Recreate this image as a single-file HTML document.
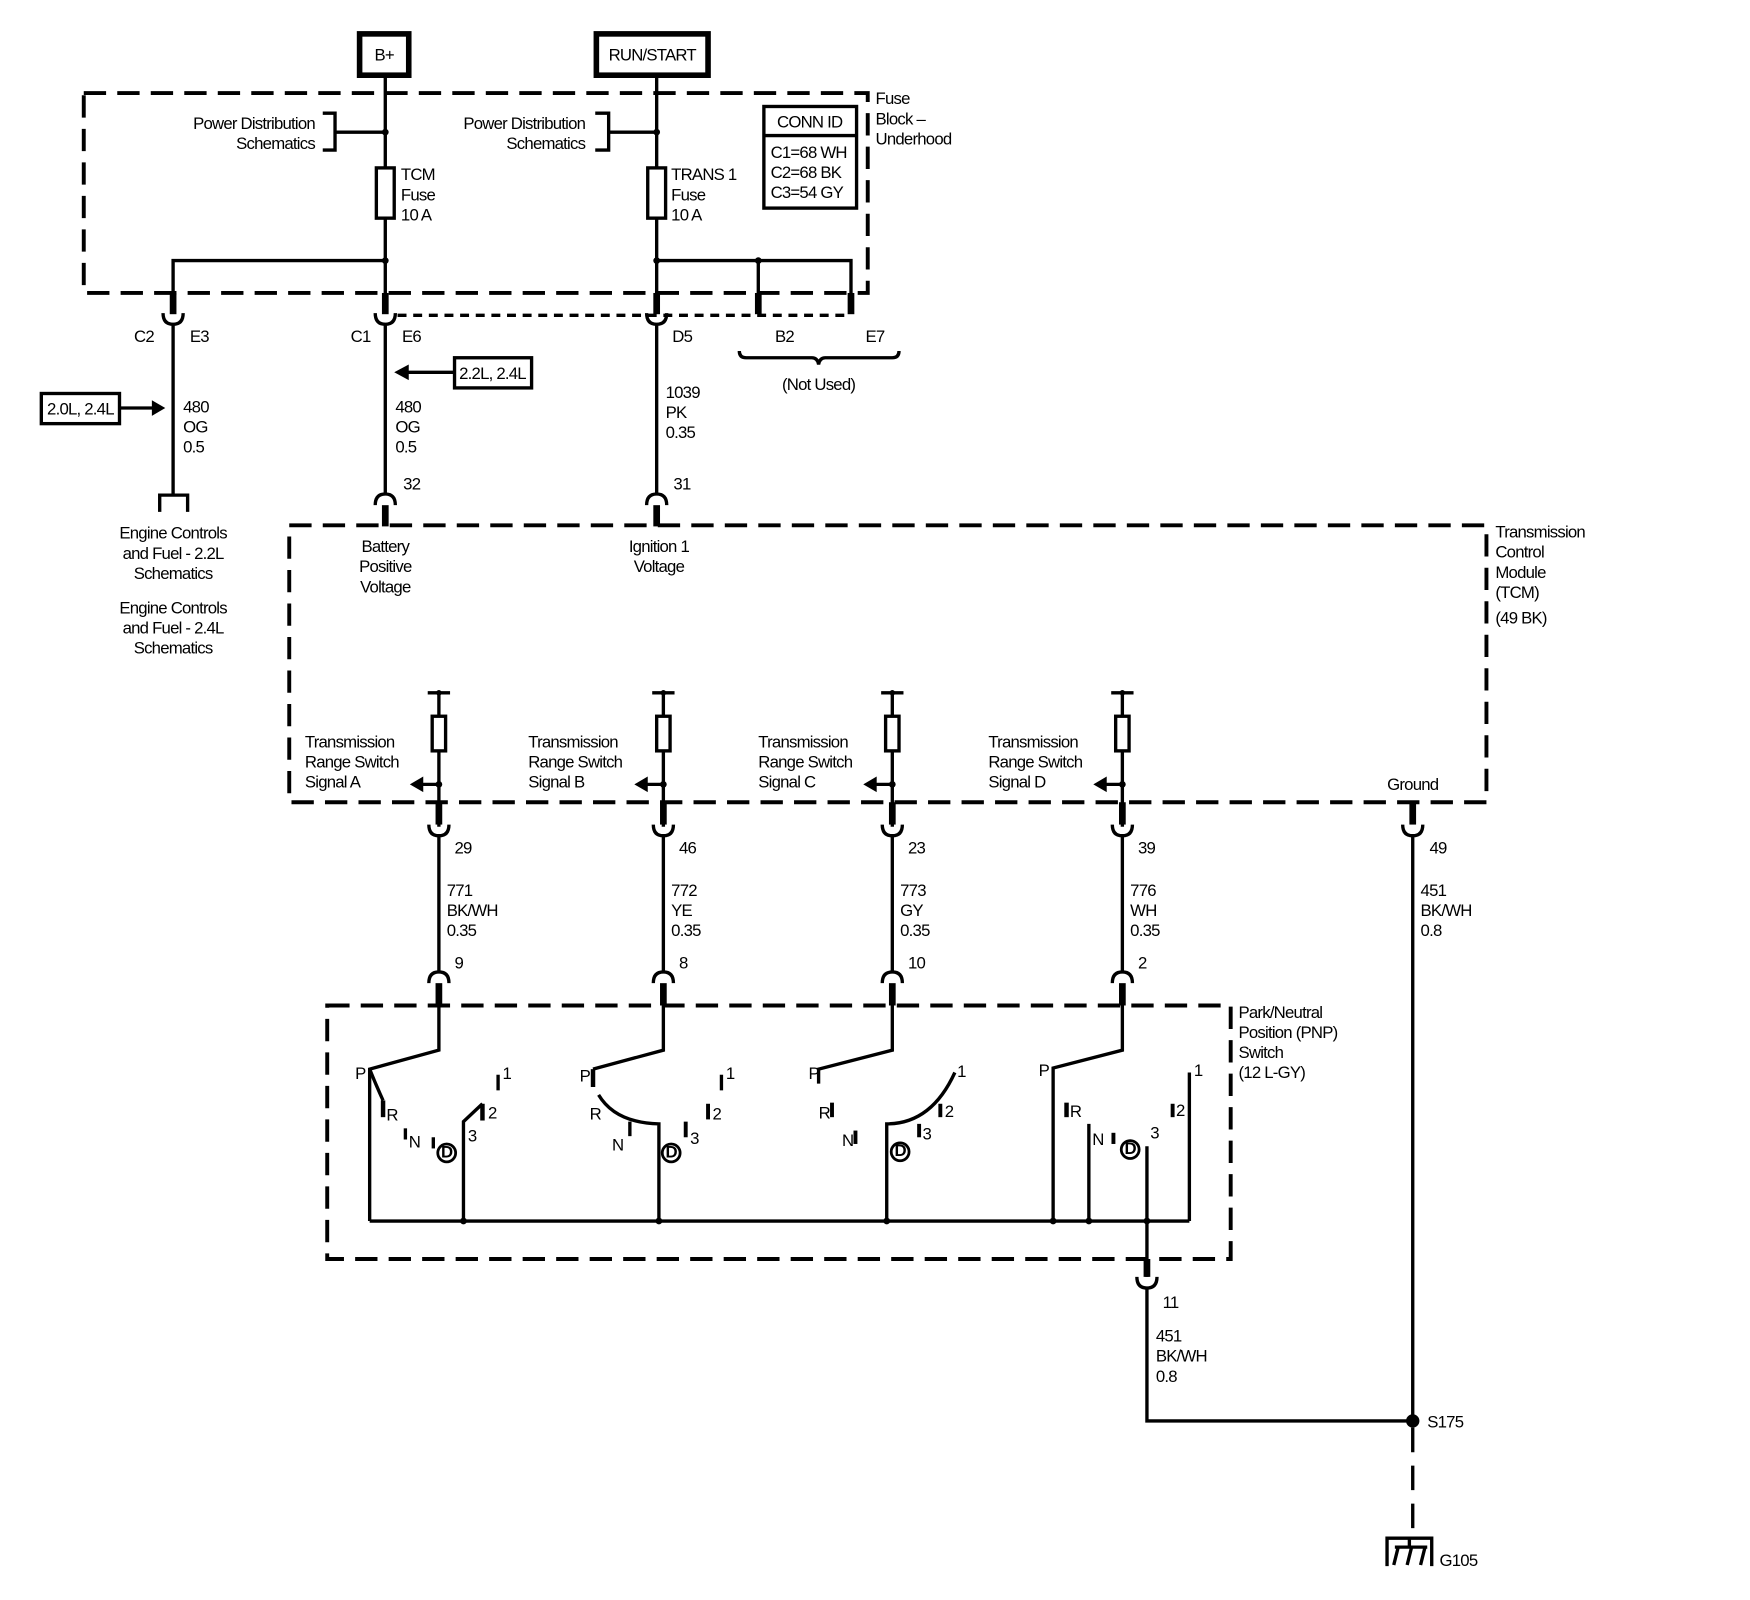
<!DOCTYPE html>
<html><head><meta charset="utf-8"><style>
html,body{margin:0;padding:0;background:#fff;}
svg{display:block;}
text{font-family:"Liberation Sans",sans-serif;font-size:15px;fill:#000;letter-spacing:-0.7px;}
</style></head><body>
<svg width="1750" height="1600" viewBox="0 0 1567 1432" xmlns="http://www.w3.org/2000/svg">
<g fill="none" stroke="#000" stroke-width="3">
<!-- power boxes -->
<rect x="322" y="30" width="44" height="37" stroke-width="5"/>
<rect x="534" y="30" width="100" height="37" stroke-width="5"/>
<!-- fuse block dashed -->
<rect x="75" y="83" width="702" height="179" stroke-dasharray="20 10" stroke-width="3.5"/>
<!-- B+ line -->
<line x1="345" y1="67" x2="345" y2="280"/>
<polyline points="289,101 300,101 300,134 289,134"/>
<line x1="300" y1="118" x2="345" y2="118"/>
<rect x="337" y="150" width="16" height="45" fill="#fff"/>
<polyline points="155,280 155,233 345,233"/>
<!-- RUN line -->
<line x1="588" y1="67" x2="588" y2="280"/>
<polyline points="533,101 545,101 545,134 533,134"/>
<line x1="545" y1="118" x2="588" y2="118"/>
<rect x="580" y="150" width="16" height="45" fill="#fff"/>
<polyline points="588,233 762,233 762,280"/>
<line x1="679" y1="233" x2="679" y2="280"/>
<!-- thick stubs -->
<g stroke-width="6">
<line x1="155" y1="262" x2="155" y2="281"/>
<line x1="345" y1="262" x2="345" y2="281"/>
<line x1="588" y1="262" x2="588" y2="281"/>
<line x1="679" y1="262" x2="679" y2="281"/>
<line x1="762" y1="262" x2="762" y2="281"/>
</g>
<line x1="356" y1="282" x2="760" y2="282" stroke-dasharray="8 6"/>
<!-- CONN ID -->
<rect x="684" y="95" width="83" height="91"/>
<line x1="684" y1="121" x2="767" y2="121"/>
<!-- female connectors top -->
<path d="M146,280 q0,10 9,10 q9,0 9,-10 M336,280 q0,10 9,10 q9,0 9,-10 M579,280 q0,10 9,10 q9,0 9,-10"/>
<!-- C2 wire -->
<line x1="155" y1="290" x2="155" y2="443"/>
<polyline points="143,458 143,443 168,443 168,458"/>
<rect x="37" y="352" width="70" height="27"/>
<line x1="108" y1="365" x2="138" y2="365"/>
<rect x="407" y="320" width="69" height="27"/>
<line x1="406" y1="333" x2="365" y2="333"/>
<!-- brace -->
<path d="M662,314 q0,6 6,6 L727,320 q5,0 6,6 q1,-6 6,-6 L799,320 q6,0 6,-6"/>
<!-- C1, D5 to TCM -->
<line x1="345" y1="290" x2="345" y2="442"/>
<line x1="588" y1="290" x2="588" y2="442"/>
<path d="M336,452 q0,-10 9,-10 q9,0 9,10 M579,452 q0,-10 9,-10 q9,0 9,10"/>
<g stroke-width="6"><line x1="345" y1="452" x2="345" y2="471"/><line x1="588" y1="452" x2="588" y2="471"/></g>
<!-- TCM dashed -->
<rect x="259" y="470" width="1072" height="248" stroke-dasharray="20 10" stroke-width="3.5"/>
<!-- signal columns -->
<g id="cols">
<line x1="383" y1="620" x2="403" y2="620"/><line x1="393" y1="620" x2="393" y2="740"/><rect x="387" y="641" width="12" height="31" fill="#fff"/><line x1="393" y1="702" x2="375" y2="702"/>
<line x1="584" y1="620" x2="604" y2="620"/><line x1="594" y1="620" x2="594" y2="740"/><rect x="588" y="641" width="12" height="31" fill="#fff"/><line x1="594" y1="702" x2="576" y2="702"/>
<line x1="789" y1="620" x2="809" y2="620"/><line x1="799" y1="620" x2="799" y2="740"/><rect x="793" y="641" width="12" height="31" fill="#fff"/><line x1="799" y1="702" x2="781" y2="702"/>
<line x1="995" y1="620" x2="1015" y2="620"/><line x1="1005" y1="620" x2="1005" y2="740"/><rect x="999" y="641" width="12" height="31" fill="#fff"/><line x1="1005" y1="702" x2="987" y2="702"/>
</g>
<g stroke-width="6">
<line x1="393" y1="718" x2="393" y2="738"/><line x1="594" y1="718" x2="594" y2="738"/><line x1="799" y1="718" x2="799" y2="738"/><line x1="1005" y1="718" x2="1005" y2="738"/><line x1="1265" y1="718" x2="1265" y2="738"/>
<line x1="393" y1="880" x2="393" y2="900"/><line x1="594" y1="880" x2="594" y2="900"/><line x1="799" y1="880" x2="799" y2="900"/><line x1="1005" y1="880" x2="1005" y2="900"/>
<line x1="1027" y1="1127" x2="1027" y2="1143"/>
</g>
<path d="M384,738 q0,10 9,10 q9,0 9,-10 M585,738 q0,10 9,10 q9,0 9,-10 M790,738 q0,10 9,10 q9,0 9,-10 M996,738 q0,10 9,10 q9,0 9,-10 M1256,738 q0,10 9,10 q9,0 9,-10 M1018,1143 q0,10 9,10 q9,0 9,-10"/>
<path d="M384,880 q0,-10 9,-10 q9,0 9,10 M585,880 q0,-10 9,-10 q9,0 9,10 M790,880 q0,-10 9,-10 q9,0 9,10 M996,880 q0,-10 9,-10 q9,0 9,10"/>
<line x1="393" y1="748" x2="393" y2="870"/><line x1="594" y1="748" x2="594" y2="870"/><line x1="799" y1="748" x2="799" y2="870"/><line x1="1005" y1="748" x2="1005" y2="870"/>
<line x1="1265" y1="748" x2="1265" y2="1272"/>
<!-- PNP box -->
<rect x="293" y="900" width="809" height="227" stroke-dasharray="20 10" stroke-width="3.5"/>
<line x1="331" y1="1093" x2="1065" y2="1093"/>
<!-- switch A -->
<polyline points="393,900 393,940 331,957 331,1093"/>
<path d="M331,957 q6,15 12,28"/>
<line x1="343" y1="985" x2="343" y2="1000" stroke-width="4"/>
<line x1="363" y1="1010" x2="363" y2="1020"/>
<line x1="388" y1="1018" x2="388" y2="1028"/>
<polyline points="415,1093 415,1004 432,988"/>
<line x1="432" y1="988" x2="432" y2="1003" stroke-width="4"/>
<line x1="446" y1="962" x2="446" y2="976"/>
<!-- switch B -->
<polyline points="594,900 594,940 531,957"/>
<line x1="531" y1="957" x2="531" y2="973" stroke-width="4"/>
<path d="M536,980 q15,25 54,26 L590,1093"/>
<line x1="564" y1="1004" x2="564" y2="1017"/>
<line x1="614" y1="1004" x2="614" y2="1018" stroke-width="3.5"/>
<line x1="634" y1="988" x2="634" y2="1002" stroke-width="3.5"/>
<line x1="646" y1="962" x2="646" y2="976"/>
<!-- switch C -->
<polyline points="799,900 799,940 733,957 733,970"/>
<line x1="745" y1="987" x2="745" y2="1000" stroke-width="3.5"/>
<line x1="766" y1="1012" x2="766" y2="1024" stroke-width="3.5"/>
<path d="M794,1093 L794,1006 q40,0 61,-46"/>
<line x1="823" y1="1006" x2="823" y2="1018" stroke-width="3.5"/>
<line x1="842" y1="988" x2="842" y2="1000" stroke-width="3.5"/>
<!-- switch D -->
<polyline points="1005,900 1005,940 943,956 943,1093"/>
<line x1="955" y1="987" x2="955" y2="1000" stroke-width="4"/>
<line x1="975" y1="1006" x2="975" y2="1093"/>
<line x1="997" y1="1014" x2="997" y2="1024" stroke-width="3.5"/>
<line x1="1027" y1="1026" x2="1027" y2="1143"/>
<line x1="1050" y1="988" x2="1050" y2="1000" stroke-width="3.5"/>
<line x1="1065" y1="960" x2="1065" y2="1093"/>
<!-- D circles -->
<g stroke-width="2.5">
<circle cx="400" cy="1032" r="8"/><circle cx="601" cy="1032" r="8"/><circle cx="806" cy="1031" r="8"/><circle cx="1012" cy="1029" r="8"/>
</g>
<!-- lower ground path -->
<polyline points="1027,1153 1027,1272 1265,1272"/>
<line x1="1265" y1="1278" x2="1265" y2="1375" stroke-dasharray="22 12"/>
<polyline points="1242,1402 1242,1377 1282,1377 1282,1402"/>
<line x1="1262" y1="1377" x2="1262" y2="1384"/>
<path d="M1252,1385 l-4,16 M1264,1385 l-4,16 M1276,1385 l-4,16 M1249,1385 h29"/>
</g>
<!-- dots -->
<g fill="#000">
<circle cx="345" cy="118" r="3"/><circle cx="588" cy="118" r="3"/><circle cx="345" cy="233" r="3"/><circle cx="588" cy="233" r="3"/><circle cx="679" cy="233" r="3"/>
<circle cx="393" cy="702" r="3"/><circle cx="594" cy="702" r="3"/><circle cx="799" cy="702" r="3"/><circle cx="1005" cy="702" r="3"/>
<circle cx="393" cy="620" r="2.5"/><circle cx="594" cy="620" r="2.5"/><circle cx="799" cy="620" r="2.5"/><circle cx="1005" cy="620" r="2.5"/>
<circle cx="415" cy="1093" r="3"/><circle cx="590" cy="1093" r="3"/><circle cx="794" cy="1093" r="3"/><circle cx="943" cy="1093" r="3"/><circle cx="975" cy="1093" r="3"/><circle cx="1027" cy="1093" r="3"/>
<circle cx="1265" cy="1272" r="6"/>
<polygon points="148,365 136,358 136,372"/>
<polygon points="353,333 366,326 366,340"/>
<polygon points="367,702 379,695 379,709"/><polygon points="568,702 580,695 580,709"/><polygon points="773,702 785,695 785,709"/><polygon points="979,702 991,695 991,709"/>
</g>
<!-- text -->
<text x="344" y="54" text-anchor="middle">B+</text>
<text x="584" y="54" text-anchor="middle">RUN/START</text>
<text x="282" y="115" text-anchor="end">Power Distribution</text>
<text x="282" y="133" text-anchor="end">Schematics</text>
<text x="524" y="115" text-anchor="end">Power Distribution</text>
<text x="524" y="133" text-anchor="end">Schematics</text>
<text x="359" y="161">TCM</text><text x="359" y="179">Fuse</text><text x="359" y="197">10 A</text>
<text x="601" y="161">TRANS 1</text><text x="601" y="179">Fuse</text><text x="601" y="197">10 A</text>
<text x="725" y="114" text-anchor="middle">CONN ID</text>
<text x="690" y="141">C1=68 WH</text><text x="690" y="159">C2=68 BK</text><text x="690" y="177">C3=54 GY</text>
<text x="784" y="93">Fuse</text><text x="784" y="111">Block –</text><text x="784" y="129">Underhood</text>
<text x="120" y="306">C2</text><text x="170" y="306">E3</text>
<text x="314" y="306">C1</text><text x="360" y="306">E6</text>
<text x="602" y="306">D5</text><text x="694" y="306">B2</text><text x="775" y="306">E7</text>
<text x="733" y="349" text-anchor="middle">(Not Used)</text>
<text x="72" y="371" text-anchor="middle">2.0L, 2.4L</text>
<text x="441" y="339" text-anchor="middle">2.2L, 2.4L</text>
<text x="164" y="369">480</text><text x="164" y="387">OG</text><text x="164" y="405">0.5</text>
<text x="354" y="369">480</text><text x="354" y="387">OG</text><text x="354" y="405">0.5</text>
<text x="596" y="356">1039</text><text x="596" y="374">PK</text><text x="596" y="392">0.35</text>
<text x="361" y="438">32</text><text x="603" y="438">31</text>
<text x="155" y="482" text-anchor="middle">Engine Controls</text>
<text x="155" y="500" text-anchor="middle">and Fuel - 2.2L</text>
<text x="155" y="518" text-anchor="middle">Schematics</text>
<text x="155" y="549" text-anchor="middle">Engine Controls</text>
<text x="155" y="567" text-anchor="middle">and Fuel - 2.4L</text>
<text x="155" y="585" text-anchor="middle">Schematics</text>
<text x="345" y="494" text-anchor="middle">Battery</text><text x="345" y="512" text-anchor="middle">Positive</text><text x="345" y="530" text-anchor="middle">Voltage</text>
<text x="590" y="494" text-anchor="middle">Ignition 1</text><text x="590" y="512" text-anchor="middle">Voltage</text>
<text x="1339" y="481">Transmission</text><text x="1339" y="499">Control</text><text x="1339" y="517">Module</text><text x="1339" y="535">(TCM)</text><text x="1339" y="558">(49 BK)</text>
<text x="273" y="669">Transmission</text><text x="273" y="687">Range Switch</text><text x="273" y="705">Signal A</text>
<text x="473" y="669">Transmission</text><text x="473" y="687">Range Switch</text><text x="473" y="705">Signal B</text>
<text x="679" y="669">Transmission</text><text x="679" y="687">Range Switch</text><text x="679" y="705">Signal C</text>
<text x="885" y="669">Transmission</text><text x="885" y="687">Range Switch</text><text x="885" y="705">Signal D</text>
<text x="1265" y="707" text-anchor="middle">Ground</text>
<text x="407" y="764">29</text><text x="608" y="764">46</text><text x="813" y="764">23</text><text x="1019" y="764">39</text><text x="1280" y="764">49</text>
<text x="400" y="802">771</text><text x="400" y="820">BK/WH</text><text x="400" y="838">0.35</text>
<text x="601" y="802">772</text><text x="601" y="820">YE</text><text x="601" y="838">0.35</text>
<text x="806" y="802">773</text><text x="806" y="820">GY</text><text x="806" y="838">0.35</text>
<text x="1012" y="802">776</text><text x="1012" y="820">WH</text><text x="1012" y="838">0.35</text>
<text x="1272" y="802">451</text><text x="1272" y="820">BK/WH</text><text x="1272" y="838">0.8</text>
<text x="407" y="867">9</text><text x="608" y="867">8</text><text x="813" y="867">10</text><text x="1019" y="867">2</text>
<text x="1109" y="911">Park/Neutral</text><text x="1109" y="929">Position (PNP)</text><text x="1109" y="947">Switch</text><text x="1109" y="965">(12 L-GY)</text>
<g style="font-size:14px">
<text x="318" y="966">P</text><text x="346" y="1003">R</text><text x="366" y="1027">N</text><text x="419" y="1022">3</text><text x="437" y="1001">2</text><text x="450" y="966">1</text>
<text x="519" y="968">P</text><text x="528" y="1002">R</text><text x="548" y="1030">N</text><text x="618" y="1024">3</text><text x="638" y="1002">2</text><text x="650" y="966">1</text>
<text x="724" y="966">P</text><text x="733" y="1001">R</text><text x="754" y="1026">N</text><text x="826" y="1020">3</text><text x="846" y="1000">2</text><text x="857" y="964">1</text>
<text x="930" y="963">P</text><text x="958" y="1000">R</text><text x="978" y="1025">N</text><text x="1030" y="1019">3</text><text x="1053" y="999">2</text><text x="1069" y="963">1</text>
</g>
<g style="font-size:11px;font-weight:bold" text-anchor="middle">
<text x="400" y="1036">D</text><text x="601" y="1036">D</text><text x="806" y="1035">D</text><text x="1012" y="1033">D</text>
</g>
<text x="1041" y="1171">11</text>
<text x="1035" y="1201">451</text><text x="1035" y="1219">BK/WH</text><text x="1035" y="1237">0.8</text>
<text x="1278" y="1278">S175</text>
<text x="1289" y="1402">G105</text>
</svg>
</body></html>
